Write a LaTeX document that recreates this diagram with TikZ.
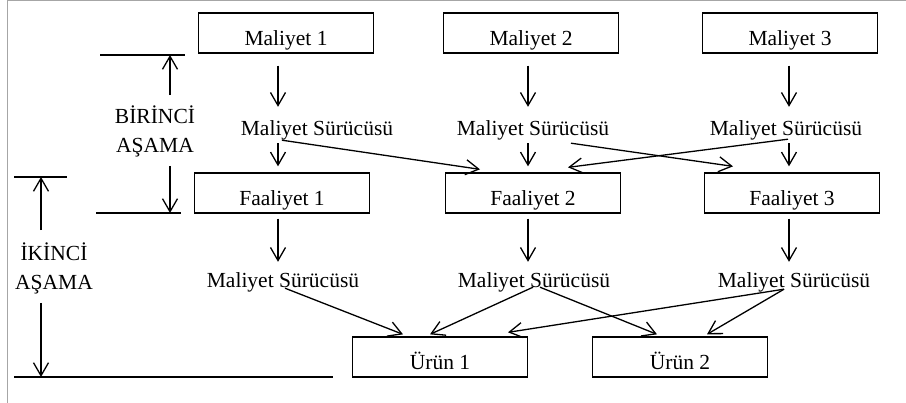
\documentclass[tikz,border=0pt]{standalone}
\usepackage{fontspec}
\setmainfont{Liberation Serif}
\usetikzlibrary{arrows.meta}
\newcommand{\diagramFont}{\fontsize{21.5}{29}\selectfont}
\newcommand{\drawFrame}{%%
  \draw[frameStyle] (frameBottom) -- (frameCorner) -- (frameEnd);
}
\newcommand{\costBoxes}{%%
  %% The cost pools.
  \node[boxStyle] (m1) at (286,33) {Maliyet 1};
  \node[boxStyle] (m2) at (531,33) {Maliyet 2};
  \node[boxStyle] (m3) at (790,33) {Maliyet 3};
  %% The activities.
  \node[boxStyle] (f1) at (282,193) {Faaliyet 1};
  \node[boxStyle] (f2) at (533,193) {Faaliyet 2};
  \node[boxStyle] (f3) at (792,193) {Faaliyet 3};
  %% The products.
  \node[boxStyle] (u1) at (440,357) {Ürün 1};
  \node[boxStyle] (u2) at (680,357) {Ürün 2};
}
\newcommand{\driverLabels}{%%
  \node[driverStyle] (d1) at (317,136) {Maliyet Sürücüsü};
  \node[driverStyle] (d2) at (533,136) {Maliyet Sürücüsü};
  \node[driverStyle] (d3) at (786,136) {Maliyet Sürücüsü};
  \node[driverStyle] (e1) at (283,288) {Maliyet Sürücüsü};
  \node[driverStyle] (e2) at (534,288) {Maliyet Sürücüsü};
  \node[driverStyle] (e3) at (794,288) {Maliyet Sürücüsü};
}
\newcommand{\firstFlow}{%%
  %% Straight down each column.
  \foreach \i in {1,2,3}{
    \draw[arrowStyle,shorten <=12pt,shorten >=15pt] (m\i.south -| col\i) -- (d\i.north -| col\i);
    \draw[arrowStyle,shorten <=7pt,shorten >=6pt] (d\i.south -| col\i) -- (f\i.north -| col\i);
  };
  %% Across the columns.
  \draw[arrowStyle] ([shift={(-35,4)}]d1.south) -- ([shift={(-53,-3)}]f2.north);
  \draw[arrowStyle] ([shift={(38,7)}]d2.south) -- ([shift={(-59,-6)}]f3.north);
  \draw[arrowStyle] ([shift={(2,3)}]d3.south) -- ([shift={(35,-5)}]f2.north);
}
\newcommand{\secondFlow}{%%
  \foreach \i in {1,2,3}{
    \draw[arrowStyle,shorten <=5pt,shorten >=12pt] (f\i.south -| col\i) -- (e\i.north -| col\i);
  };
  \draw[arrowStyle] ([shift={(2,0)}]e1.south) -- ([shift={(-37,-2)}]u1.north);
  \draw[arrowStyle] ([shift={(-1,-1)}]e2.south) -- ([shift={(-10,-2)}]u1.north);
  \draw[arrowStyle] ([shift={(6,-1)}]e2.south) -- ([shift={(-23,-2)}]u2.north);
  \draw[arrowStyle] ([shift={(-10,1)}]e3.south) -- ([shift={(68,-4)}]u1.north);
  \draw[arrowStyle] ([shift={(-10,1)}]e3.south) -- ([shift={(27,-2)}]u2.north);
}
\newcommand{\stageMarks}{%%
  %% The first stage.
  \draw[lineStyle] (b1startTop) -- (b1endTop);
  \draw[lineStyle] (b1startBot) -- (b1endBot);
  \node[stageStyle] (s1) at (155,131) {BİRİNCİ\\AŞAMA};
  \draw[arrowStyle,shorten <=10pt] (s1.north -| b1top) -- (b1top);
  \draw[arrowStyle,shorten <=9pt] (s1.south -| b1bot) -- (b1bot);
  %% The second stage.
  \draw[lineStyle] (b2startTop) -- (b2endTop);
  \draw[lineStyle] (b2startBot) -- (b2endBot);
  \node[stageStyle] (s2) at (54,268) {İKİNCİ\\AŞAMA};
  \draw[arrowStyle,shorten <=12pt] (s2.north -| b2top) -- (b2top);
  \draw[arrowStyle,shorten <=9pt] (s2.south -| b2bot) -- (b2bot);
}

\begin{document}
\begin{tikzpicture}[%%
  x=1pt,y=-1pt,%%
  boxStyle/.style={draw,line width=1.3pt,minimum width=\boxWidth pt,minimum height=\boxHeight pt,inner sep=0pt,text height=26pt,text depth=0pt,font=\diagramFont},%%
  driverStyle/.style={inner sep=0pt,text height=14pt,text depth=0pt,anchor=base,font=\diagramFont},%%
  stageStyle/.style={inner sep=0pt,align=center,font=\diagramFont},%%
  arrowStyle/.style={-{Straight Barb[length=13pt,width=15pt]},line width=1.3pt},%%
  lineStyle/.style={-,line width=1.3pt},%%
  frameStyle/.style={-,gray!70,line width=1pt}
]
%%
%%
\pgfmathsetmacro{\boxWidth}{175}
\pgfmathsetmacro{\boxHeight}{40}
\useasboundingbox (0,0) rectangle (906,403);
\coordinate (frameBottom) at (7,403);
\coordinate (frameCorner) at (7,1);
\coordinate (frameEnd) at (906,1);
\coordinate (col1) at (278,0);
\coordinate (col2) at (528,0);
\coordinate (col3) at (789,0);
\coordinate (b1top) at (170,55);
\coordinate (b1bot) at (170,213);
\coordinate (b1startTop) at (100,55);
\coordinate (b1endTop) at (185,55);
\coordinate (b1startBot) at (96,213);
\coordinate (b1endBot) at (181,213);
\coordinate (b2top) at (41,177);
\coordinate (b2bot) at (41,377);
\coordinate (b2startTop) at (14,177);
\coordinate (b2endTop) at (67,177);
\coordinate (b2startBot) at (14,377);
\coordinate (b2endBot) at (333,377);
%%
%% The page frame.
\drawFrame
%%
%% Boxes and cost drivers.
\costBoxes
\driverLabels
%%
%% The two stages of allocation.
\firstFlow
\secondFlow
\stageMarks
\end{tikzpicture}
\end{document}
